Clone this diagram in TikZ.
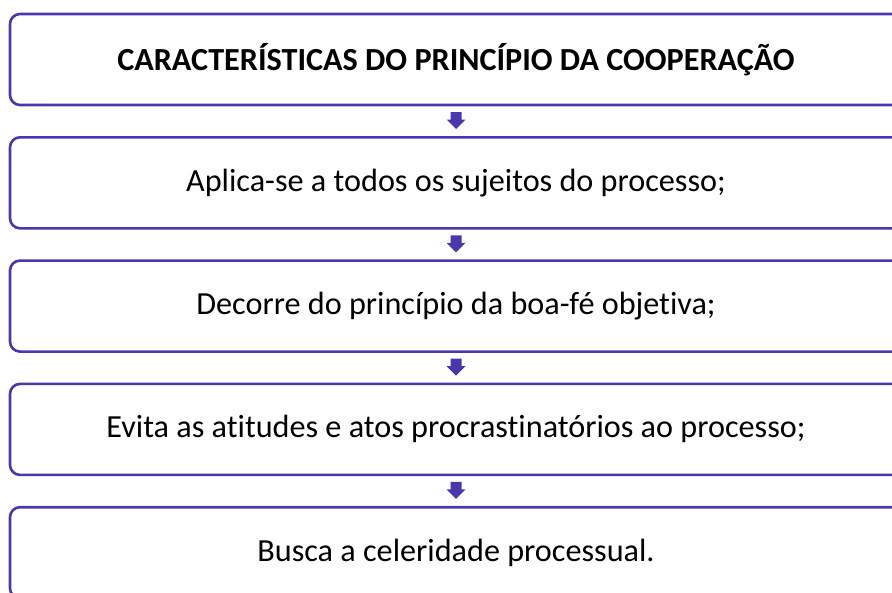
\documentclass[tikz,border=0pt]{standalone}
\usepackage{fontspec}
\setmainfont{Carlito}[Ligatures=NoCommon]
\definecolor{boxc}{RGB}{72,56,172}
\begin{document}
\begin{tikzpicture}[x=1pt,y=-1pt,
  itembox/.style={draw=boxc, line width=2.6pt, rounded corners=10pt, fill=white},
  itemtext/.style={font=\fontsize{32.2}{38}\selectfont, text=black, inner sep=0pt},
  darr/.style={fill=boxc, draw=none}]
\useasboundingbox (0,0) rectangle (892,592);
\foreach \i/\t in {0/1,1/2,2/3,3/4,4/5}{
  \pgfmathsetmacro{\top}{14+123.3*\i}
  \draw[itembox] (10,\top) rectangle (902,\top+91);
  \coordinate (b\t) at (456,\top+45.5);
}
\node[itemtext, font=\bfseries\fontsize{32.2}{38}\selectfont] (t1) at (b1) {CARACTERÍSTICAS DO PRINCÍPIO DA COOPERAÇÃO};
\node[itemtext] (t2) at (b2) {Aplica-se a todos os sujeitos do processo;};
\node[itemtext] (t3) at (b3) {Decorre do princípio da boa-fé objetiva;};
\node[itemtext] (t4) at (b4) {Evita as atitudes e atos procrastinatórios ao processo;};
\node[itemtext] (t5) at (456,553) {Busca a celeridade processual.};
\foreach \i in {0,1,2,3}{
  \pgfmathsetmacro{\y}{14+123.3*\i+91+7}
  \fill[darr] (450.5,\y) -- (461.5,\y) -- (461.5,\y+7.5) -- (465.5,\y+7.5) -- (456,\y+17) -- (446.5,\y+7.5) -- (450.5,\y+7.5) -- cycle;
}
\end{tikzpicture}
\end{document}
